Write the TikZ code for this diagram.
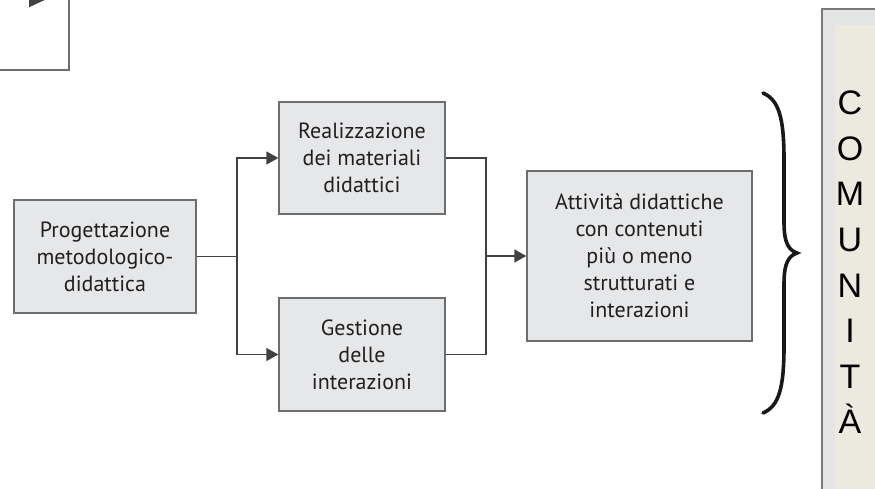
\documentclass[tikz,border=0pt]{standalone}
\usepackage{fontspec}
\setmainfont{PT Sans}
\newfontfamily\arialfont{Liberation Sans}
\usetikzlibrary{arrows.meta,calc}
\definecolor{boxfill}{HTML}{E6E7E8}
\definecolor{boxborder}{HTML}{6D6E70}
\definecolor{linecol}{HTML}{414042}
\definecolor{textcol}{HTML}{231F20}
\definecolor{comfill}{HTML}{E3E5E5}
\definecolor{combeige}{HTML}{ECE9DF}
\definecolor{comborder}{HTML}{7A7A7A}
\begin{document}
\begin{tikzpicture}[x=1pt,y=-1pt,
  box/.style={draw=boxborder, line width=1.3pt, fill=boxfill, align=center,
    font=\fontsize{22}{27}\selectfont, text=textcol, inner sep=0pt},
  conn/.style={draw=linecol, line width=1.3pt},
  arr/.style={conn, -{Triangle[length=12pt,width=13pt]}},
  letter/.style={anchor=base, text=black, inner sep=0pt,
    font=\arialfont\fontsize{34}{40}\selectfont}]
\useasboundingbox (0,0) rectangle (875,489);
\clip (0,0) rectangle (875,489);
% partial box at top-left
\draw[draw=boxborder, line width=1.8pt] (-20,-20) rectangle (69,70);
\coordinate (tlA) at (-30,-2);
\coordinate (tlB) at (49,-2);
\draw[conn, line width=2pt, -{Triangle[length=20pt,width=18pt]}] (tlA) -- (tlB);
% main boxes
\node[box, minimum width=182pt, minimum height=113pt] (prog) at (105,256.5)
  {Progettazione\\metodologico-\\didattica};
\node[box, minimum width=166pt, minimum height=112pt] (real) at (362,158)
  {Realizzazione\\dei materiali\\didattici};
\node[box, minimum width=166pt, minimum height=113pt] (gest) at (362,354.5)
  {Gestione\\delle\\interazioni};
\node[box, minimum width=225pt, minimum height=170pt] (att) at (639.5,256)
  {Attività didattiche\\con contenuti\\più o meno\\strutturati e\\interazioni};
% connectors
\coordinate (split) at (237,256.5);
\coordinate (join) at (486,256);
\draw[conn] (prog.east) -- (split);
\draw[arr] (split) |- (real.west);
\draw[arr] (split) |- (gest.west);
\draw[conn] (real.east) -| (join);
\draw[conn] (gest.east) -| (join);
\draw[arr] (join) -- (att.west);
% brace
\draw[line width=3.6pt, line cap=round, black!90]
  (763,93) .. controls (779,100) and (784,118) .. (784,160)
  -- (784,222) .. controls (784,244) and (789,250) .. (797,253)
  .. controls (789,256) and (784,262) .. (784,284)
  -- (784,346) .. controls (784,388) and (779,406) .. (763,413);
% community box
\draw[fill=comfill, draw=comborder, line width=2pt] (822,9) rectangle (895,510);
\fill[combeige] (835,25) rectangle (895,510);
\foreach \ch [count=\i from 0] in {C,O,M,U,N,I,T,À}
  \node[letter] (com\i) at (850,{115+45.5*\i}) {\ch};
\end{tikzpicture}
\end{document}
